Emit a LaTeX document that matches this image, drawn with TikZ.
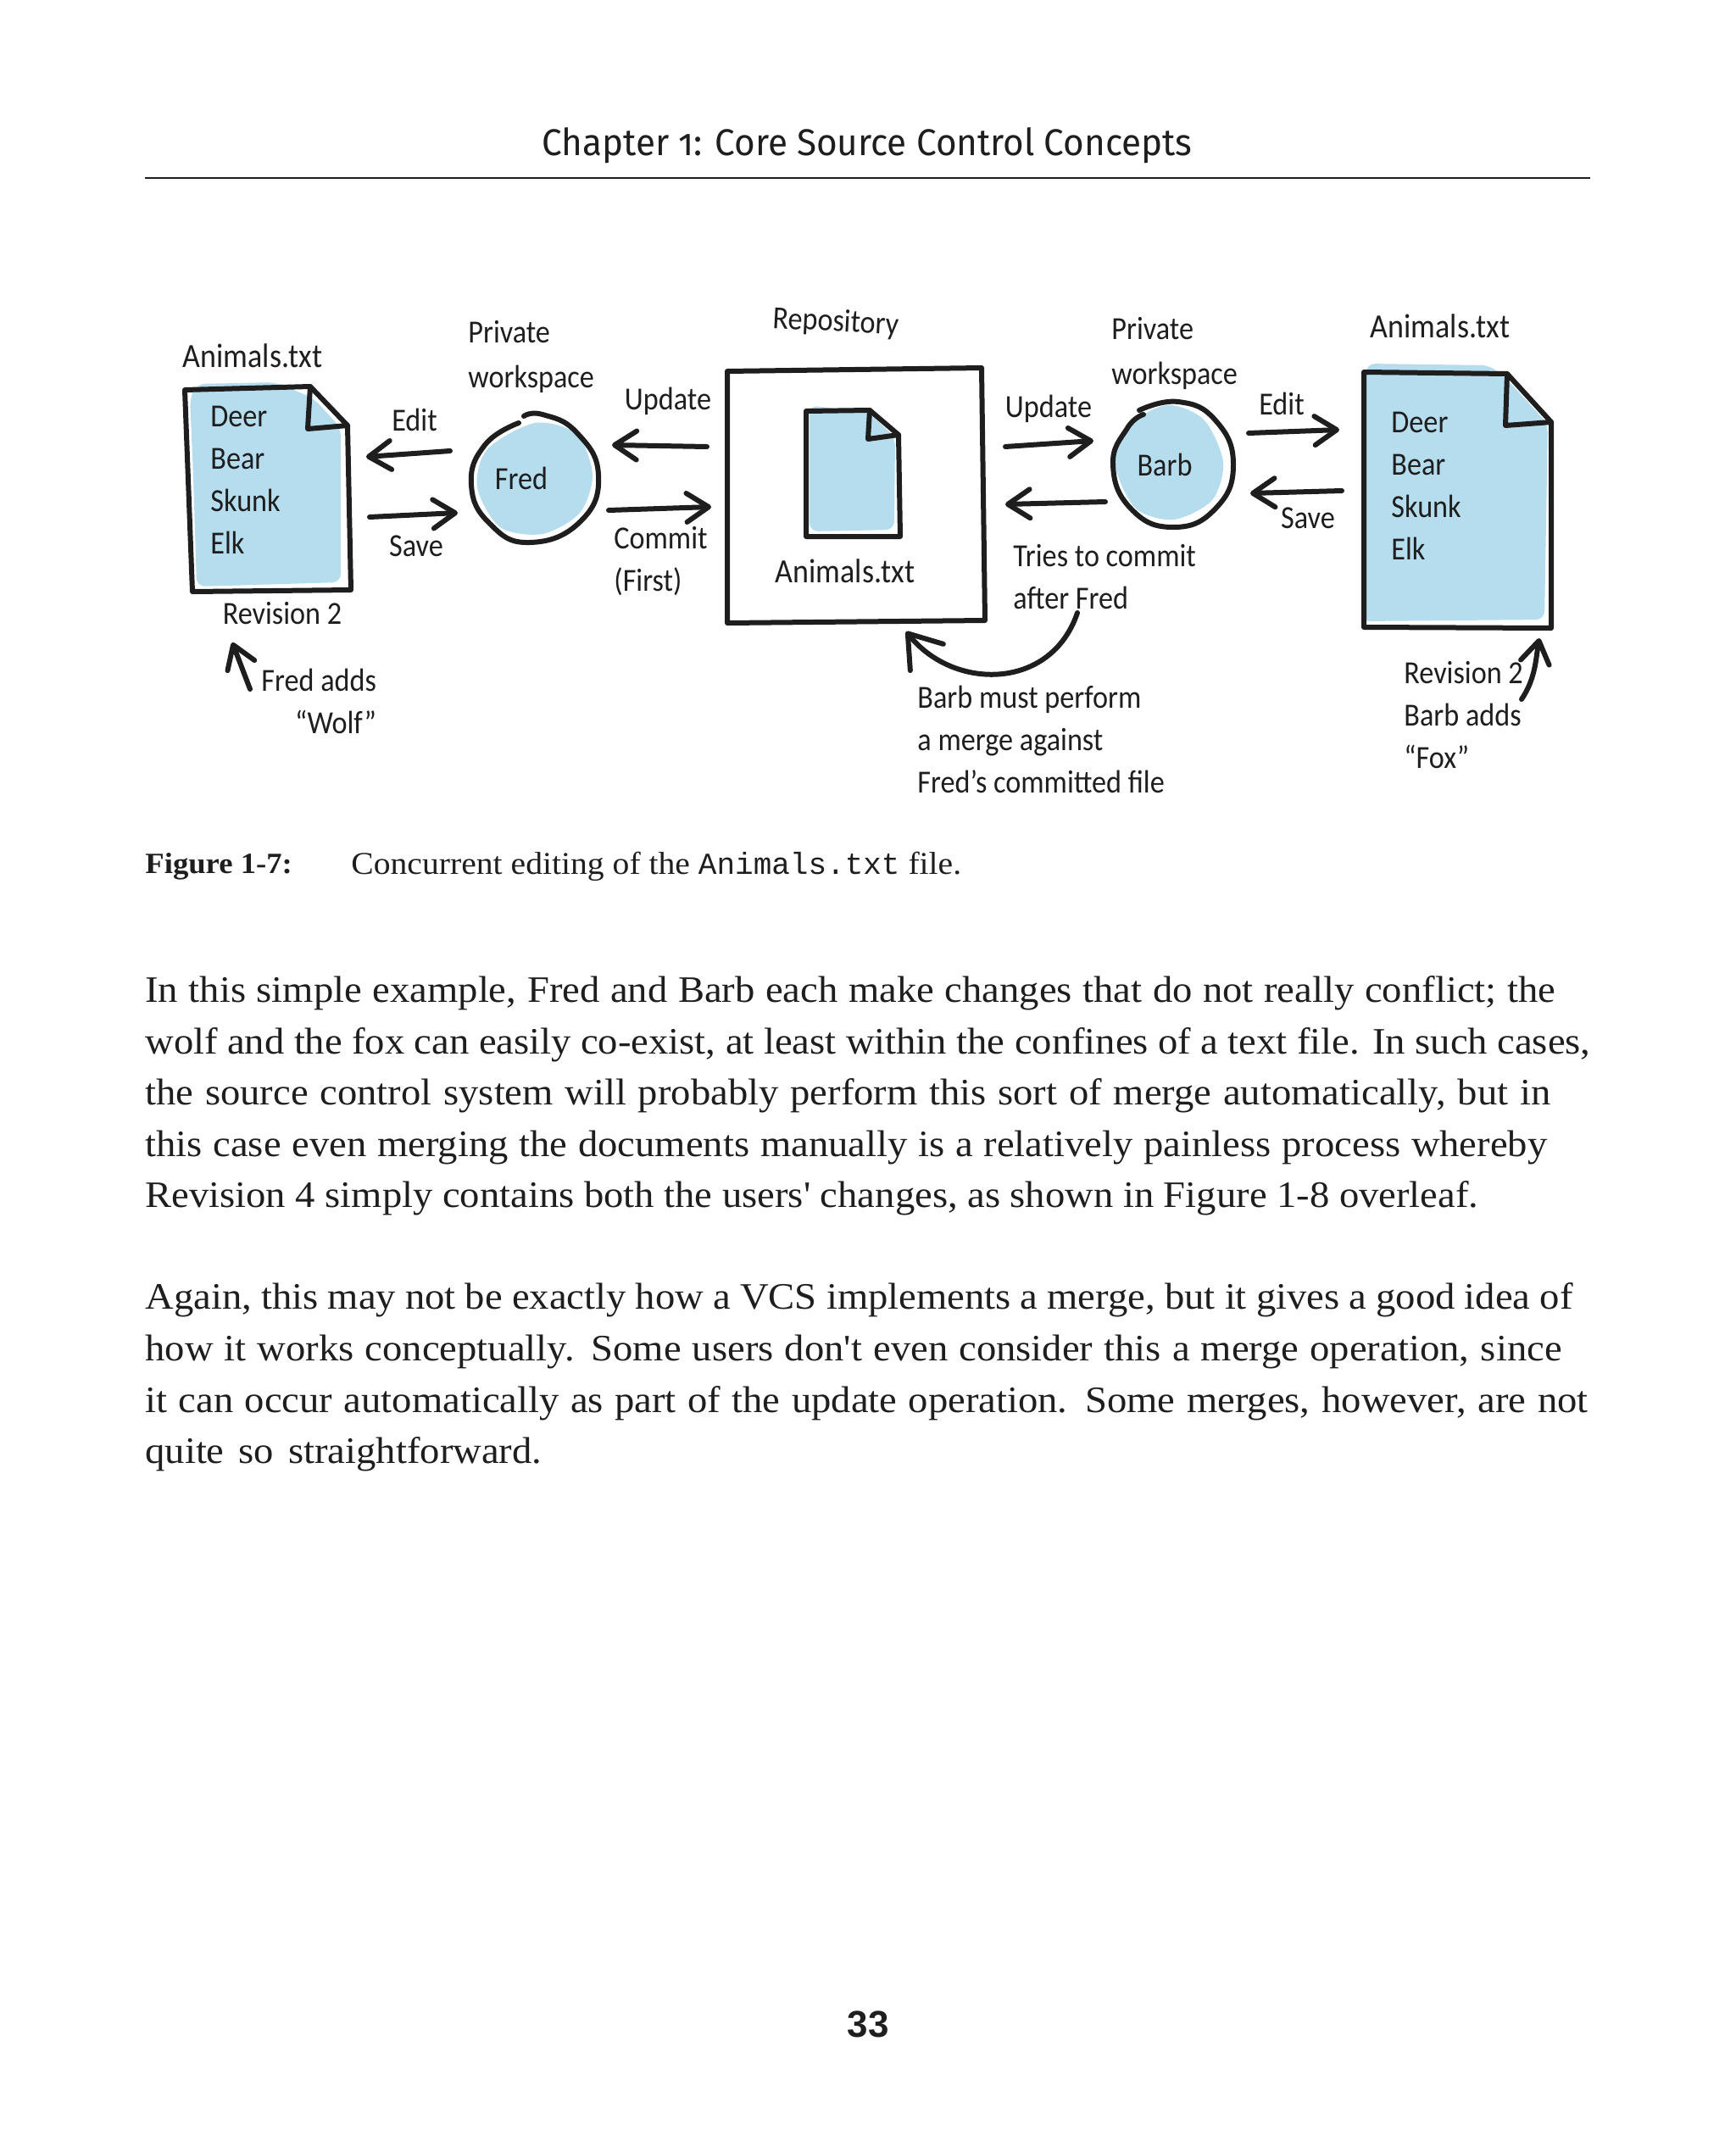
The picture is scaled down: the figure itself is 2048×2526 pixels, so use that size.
\documentclass[tikz,border=0pt]{standalone}
\usepackage{fontspec}
\usetikzlibrary{arrows.meta}

\newfontfamily\handfont[FakeStretch=0.9]{Carlito}
\newfontfamily\headfont[Numbers=OldStyle, FakeStretch=0.96]{Fira Sans}
\newfontfamily\bodyfont[FakeStretch=1.06]{Liberation Serif}
\newfontfamily\codefont{Liberation Mono}
\newfontfamily\numfont{Liberation Sans}

\definecolor{sketchblue}{HTML}{B5DDEE}
\definecolor{sketchink}{HTML}{1E1E1E}

\newcommand{\fitline}[2]{\makebox[#1pt][s]{#2}}

\tikzset{
  hand/.style={font=\handfont\fontsize{19}{25}\selectfont, text=sketchink, inner sep=0pt},
  handname/.style={hand, font=\handfont\fontsize{20}{25}\selectfont},
  handlist/.style={hand, align=left, anchor=west},
  body/.style={font=\bodyfont\fontsize{22}{30.3}\selectfont, text=sketchink,
    inner sep=0pt, align=left, anchor=west},
  outline/.style={draw=sketchink, line width=3pt, line join=round, line cap=round},
  wash/.style={fill=sketchblue, rounded corners=5pt},
  anchorbox/.style={inner sep=0pt, outer sep=0pt},
  flow/.style={sketchink, line width=3pt, line cap=round, line join=round,
    >={Straight Barb[length=13pt, width=17pt, round]}},
  bighead/.style={>={Straight Barb[length=18pt, width=25pt, round]}},
}

\begin{document}
\begin{tikzpicture}[x=0.5pt, y=-0.5pt]
    \useasboundingbox (0,0) rectangle (2048,2526);

    \node[font=\headfont\fontsize{22}{26}\selectfont, text=sketchink] (head) at (1023,172)
      {Chapter 1: Core Source Control Concepts};
    \coordinate (rulel) at (171,210);
    \coordinate (ruler) at (1876,210);
    \draw[sketchink, line width=1pt] (rulel)--(ruler);

    \fill[sketchblue] plot[smooth cycle] coordinates {(631,499) (680,512) (699,560) (684,605) (640,630) (590,622) (563,575) (575,530)};
    \fill[sketchblue] plot[smooth cycle] coordinates {(1376,478) (1420,495) (1443,545) (1430,590) (1385,613) (1340,600) (1316,550) (1328,505)};

    \fill[wash] (224,470)--(232,453)--(325,451)--(370,470)--(402,505)--(402,687)--(232,692)--(228,560)--cycle;
    \fill[wash] (955,478)--(975,481)--(1024,486)--(1056,516)--(1055,625)--(955,627)--cycle;
    \fill[wash] (1612,429)--(1758,431)--(1780,450)--(1826,500)--(1822,731)--(1606,733)--cycle;

    \draw[outline] (218,460)--(366,456)--(410,502)--(414,696)--(227,698)--cycle;
    \draw[outline] (366,456)--(363,506)--(410,502);

    \draw[outline] (858,438)--(1158,434)--(1162,732)--(858,735)--cycle;

    \draw[outline] (951,485)--(1026,484)--(1060,513)--(1062,633)--(951,633)--cycle;
    \draw[outline] (1026,484)--(1024,518)--(1060,513);

    \draw[outline] (1609,439)--(1778,441)--(1830,498)--(1830,741)--(1609,740)--cycle;
    \draw[outline] (1778,441)--(1776,502)--(1830,498);

    \draw[outline] plot[smooth, tension=0.8] coordinates {(618,491) (640,489) (680,510) (706,560) (685,615) (625,640) (578,618) (556,572) (572,525) (612,499)};
    \draw[outline] plot[smooth, tension=0.8] coordinates {(1344,484) (1390,474) (1434,496) (1455,548) (1434,600) (1384,622) (1334,600) (1313,548) (1330,505) (1349,489)};

    \node[anchorbox, minimum width=95pt, minimum height=120pt] (filel) at (318,578) {};
    \node[anchorbox, minimum width=151pt, minimum height=149pt] (repo) at (1010,585) {};
    \node[anchorbox, minimum width=111pt, minimum height=151pt] (filer) at (1720,590) {};
    \node[anchorbox, circle, minimum size=75pt] (fred) at (631,564) {};
    \node[anchorbox, circle, minimum size=73pt] (barb) at (1384,548) {};

    \node[handname] (namel) at (298,420) {Animals.txt};
    \node[handlist] (listl) at (248,566) {Deer\\Bear\\Skunk\\Elk};
    \node[hand] (revl) at (333,724) {Revision 2};
    \node[hand, align=right, anchor=west] (wolf) at (308,827) {Fred adds\\“Wolf”};
    \node[handlist, font=\handfont\fontsize{19}{26.5}\selectfont] (privl) at (552,421) {Private\\workspace};
    \node[hand] (fredtxt) at (615,564) {Fred};
    \node[hand] (editl) at (489,495) {Edit};
    \node[hand] (savel) at (491,644) {Save};
    \node[hand] (updl) at (788,473) {Update};
    \node[handlist] (commit) at (724,662) {Commit\\(First)};

    \node[hand, rotate=-3] (repotxt) at (986,381) {Repository};
    \node[handname] (namem) at (997,674) {Animals.txt};
    \node[handlist] (tries) at (1195,681) {Tries to commit\\after Fred};
    \node[handlist] (merge) at (1082,872) {Barb must perform\\a merge against\\Fred’s committed file};

    \node[hand] (updr) at (1237,482) {Update};
    \node[handlist, font=\handfont\fontsize{19}{26.5}\selectfont] (privr) at (1311,417) {Private\\workspace};
    \node[hand] (barbtxt) at (1374,548) {Barb};
    \node[hand] (editr) at (1512,476) {Edit};
    \node[hand] (saver) at (1543,611) {Save};
    \node[handname] (namer) at (1699,385) {Animals.txt};
    \node[handlist] (listr) at (1641,573) {Deer\\Bear\\Skunk\\Elk};
    \node[handlist] (fox) at (1656,844) {Revision 2\\Barb adds\\“Fox”};

    \draw[flow, ->] ([shift={(-25,-32)}]fred.west)--([shift={(19,-39)}]filel.east);
    \draw[flow, ->] ([shift={(23,32)}]filel.east)--([shift={(-16,41)}]fred.west);
    \draw[flow, ->] ([shift={(-25,-58)}]repo.west)--([shift={(16,-39)}]fred.east);
    \draw[flow, ->] ([shift={(12,38)}]fred.east)--([shift={(-20,13)}]repo.west);
    \draw[flow, ->] ([shift={(25,-58)}]repo.east)--([shift={(-21,-28)}]barb.west);
    \draw[flow, ->] ([shift={(-7,44)}]barb.west)--([shift={(25,10)}]repo.east);
    \draw[flow, ->] ([shift={(16,-37)}]barb.east)--([shift={(-29,-83)}]filer.west);
    \draw[flow, ->] ([shift={(-26,-11)}]filer.west)--([shift={(18,34)}]barb.east);
    \draw[flow, ->] ([shift={(-13,-14)}]wolf.west)--([shift={(-44,60)}]filel.south);
    \draw[flow, bighead, ->] ([shift={(76,42)}]tries.west) .. controls (1240,815) and (1125,815) .. ([shift={(59,11)}]repo.south);
    \draw[flow, ->] ([shift={(139,-19)}]fox.west) .. controls (1812,800) and (1812,775) .. ([shift={(96,12)}]filer.south);

    \node[anchor=west, inner sep=0pt, text=sketchink, font=\bodyfont\bfseries\fontsize{17.3}{22}\selectfont] (figno) at (171,1022) {Figure 1-7:};
    \node[anchor=west, inner sep=0pt, text=sketchink, font=\bodyfont\fontsize{18.7}{22}\selectfont] (figcap) at (414,1022)
      {Concurrent editing of the {\codefont\fontsize{18}{22}\selectfont Animals.txt} file.};

    \node[body] (parone) at (171,1293) {\fitline{832}{In this simple example, Fred and Barb each make changes that do not really conflict; the}\\
      \fitline{852.5}{wolf and the fox can easily co-exist, at least within the confines of a text file. In such cases,}\\
      \fitline{829}{the source control system will probably perform this sort of merge automatically, but in}\\
      \fitline{827}{this case even merging the documents manually is a relatively painless process whereby}\\
      \fitline{786.5}{Revision 4 simply contains both the users' changes, as shown in Figure 1-8 overleaf.}};
    \node[body] (partwo) at (171,1625) {\fitline{842}{Again, this may not be exactly how a VCS implements a merge, but it gives a good idea of}\\
      \fitline{835.6}{how it works conceptually. Some users don't even consider this a merge operation, since}\\
      \fitline{851}{it can occur automatically as part of the update operation. Some merges, however, are not}\\
      \fitline{234}{quite so straightforward.}};

    \node[font=\numfont\bfseries\fontsize{22}{26}\selectfont, text=sketchink] (pageno) at (1024,2388) {33};
\end{tikzpicture}
\end{document}
